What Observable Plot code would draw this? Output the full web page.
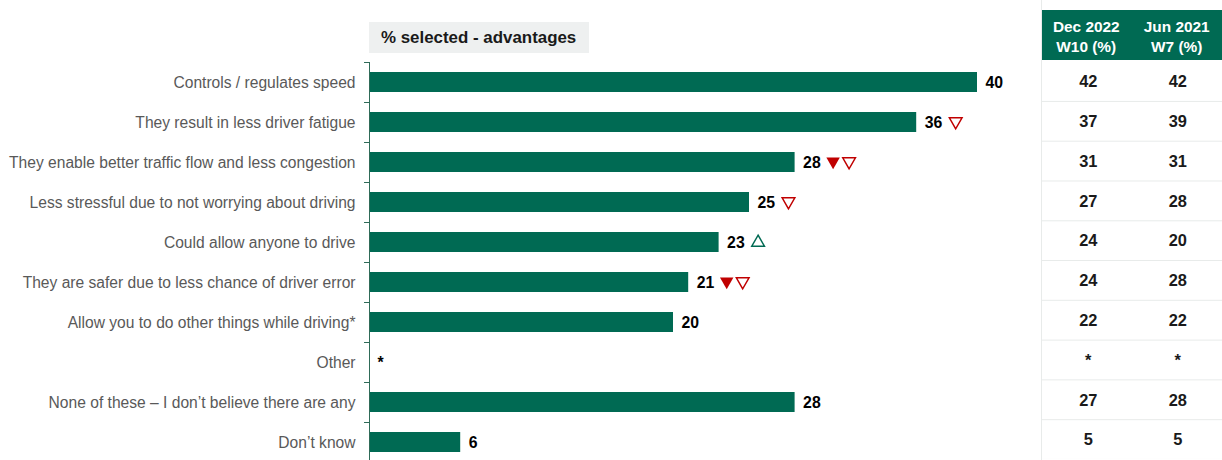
<!DOCTYPE html>
<html>
<head>
<meta charset="utf-8">
<script src="https://cdn.jsdelivr.net/npm/d3@7"></script>
<script src="https://cdn.jsdelivr.net/npm/@observablehq/plot@0.6"></script>
<style>
  html, body { margin: 0; padding: 0; background: #fff; overflow: hidden; }
  body { font-family: "Liberation Sans", Arial, sans-serif; }
  #wrap { position: relative; width: 1222px; height: 460px; overflow: hidden; }
  #title { position: absolute; left: 369px; top: 22px; width: 220px; height: 31px; background: #eef0f0;
           font-weight: bold; font-size: 16.9px; color: #1a1a1a; line-height: 32px; box-sizing: border-box; padding-left: 12px; white-space: nowrap; }
  #main { position: absolute; left: 0; top: 0; }
  #header { position: absolute; left: 1041px; top: 10px; width: 181px; height: 50px; background: #006a53; display: flex; }
  #header div { flex: 1; color: #fff; font-weight: bold; font-size: 15.4px; text-align: center; line-height: 20px; padding-top: 7px; }
  #table { position: absolute; left: 1041px; top: 0; border-left: 1px solid #e8ebea; height: 462px; }
</style>
</head>
<body>
<div id="wrap">
  <div id="main"></div>
  <div id="title">% selected - advantages</div>
  <div id="header"><div>Dec 2022<br>W10 (%)</div><div>Jun 2021<br>W7 (%)</div></div>
  <div id="table"></div>
</div>
<script>
const categories = [
  "Controls / regulates speed",
  "They result in less driver fatigue",
  "They enable better traffic flow and less congestion",
  "Less stressful due to not worrying about driving",
  "Could allow anyone to drive",
  "They are safer due to less chance of driver error",
  "Allow you to do other things while driving*",
  "Other",
  "None of these \u2013 I don\u2019t believe there are any",
  "Don\u2019t know"
];
const values = [40, 36, 28, 25, 23, 21, 20, 0, 28, 6];
const valueLabels = ["40", "36", "28", "25", "23", "21", "20", "*", "28", "6"];
const dec2022 = ["42", "37", "31", "27", "24", "24", "22", "*", "27", "5"];
const jun2021 = ["42", "39", "31", "28", "20", "28", "22", "*", "28", "5"];
// significance markers per row, in display order: "fdown" filled down, "hdown" hollow down, "hup" hollow up
const markers = [[], ["hdown"], ["fdown", "hdown"], ["hdown"], ["hup"], ["fdown", "hdown"], [], [], [], []];
const columns = ["Dec 2022 W10 (%)", "Jun 2021 W7 (%)"];

const GREEN = "#006a53";
const RED = "#c00000";
const AXIS = "#2f6b58";

const bars = categories.map((c, i) => ({category: c, value: values[i], label: valueLabels[i]}));
const marks = [];
categories.forEach((c, i) => markers[i].forEach((m, k) => marks.push({category: c, value: values[i], type: m, slot: k})));

const main = Plot.plot({
  width: 1030,
  height: 462,
  marginLeft: 369,
  marginRight: 53,
  marginTop: 62,
  marginBottom: 0,
  style: {fontFamily: "Liberation Sans, Arial, sans-serif", background: "transparent", overflow: "visible"},
  x: {domain: [0, 40], axis: null},
  y: {type: "band", domain: categories, paddingInner: 0.5, paddingOuter: 0.25, label: null},
  marks: [
    Plot.barX(bars, {x: "value", y: "category", fill: GREEN}),
    Plot.axisY({tickSize: 5, text: null, dy: -20, stroke: AXIS}),
    Plot.axisY({tickSize: 0, tickPadding: 14, fontSize: 15.6, fill: "#595959", label: null}),
    Plot.ruleX([0], {stroke: AXIS, strokeWidth: 1}),
    Plot.text(bars, {x: "value", y: "category", text: "label", dx: 8, textAnchor: "start",
      fontWeight: "bold", fontSize: 15.8, fill: "#000"}),
    Plot.dot(marks.filter(d => d.type === "fdown"), {x: "value", y: "category", symbol: "triangle", rotate: 180, r: 5,
      fill: RED, stroke: null, dx: 38, dy: -1}),
    Plot.dot(marks.filter(d => d.type === "hdown" && d.slot === 0), {x: "value", y: "category", symbol: "triangle", rotate: 180, r: 4.7,
      fill: "none", stroke: RED, strokeWidth: 1.5, dx: 39, dy: -1}),
    Plot.dot(marks.filter(d => d.type === "hdown" && d.slot === 1), {x: "value", y: "category", symbol: "triangle", rotate: 180, r: 4.7,
      fill: "none", stroke: RED, strokeWidth: 1.5, dx: 54, dy: -1}),
    Plot.dot(marks.filter(d => d.type === "hup"), {x: "value", y: "category", symbol: "triangle", r: 4.7,
      fill: "none", stroke: GREEN, strokeWidth: 1.5, dx: 39, dy: 0})
  ]
});
document.getElementById("main").appendChild(main);

const cells = [];
categories.forEach((c, i) => {
  cells.push({col: columns[0], category: c, text: dec2022[i]});
  cells.push({col: columns[1], category: c, text: jun2021[i]});
});

const table = Plot.plot({
  width: 181,
  height: 462,
  marginLeft: 0,
  marginRight: 0,
  marginTop: 62,
  marginBottom: 0,
  style: {fontFamily: "Liberation Sans, Arial, sans-serif", background: "transparent"},
  x: {type: "band", domain: columns, padding: 0, axis: null},
  y: {type: "band", domain: categories, padding: 0, axis: null},
  marks: [
    Plot.tickY(categories, {y: d => d, dy: 19.5, stroke: "#e8ebea", strokeWidth: 1}),
    Plot.text(cells, {x: "col", y: "category", text: "text", fontWeight: "bold", fontSize: 16.5, fill: "#1a1a1a"})
  ]
});
document.getElementById("table").appendChild(table);
</script>
</body>
</html>
